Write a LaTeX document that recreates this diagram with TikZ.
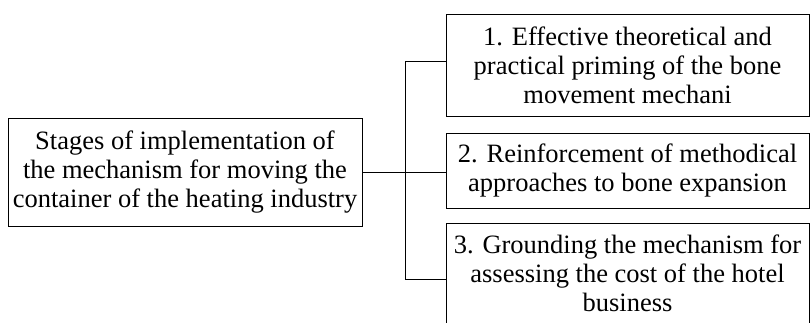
\documentclass[tikz,border=0pt]{standalone}
\usepackage{fontspec}
\setmainfont{Liberation Serif}
\begin{document}
\begin{tikzpicture}[x=1pt,y=1pt,
  box/.style={draw, line width=1pt, align=center, inner sep=0pt, font=\fontsize{26.5}{29}\selectfont},
  link/.style={line width=1pt}]
\clip (0,0) rectangle (810,322);
\node[box, minimum width=354, minimum height=108] (root) at (185,150)
  {Stages of implementation of\\the mechanism for moving the\\container of the heating industry};
\node[box, minimum width=363, minimum height=101] (b1) at (627.5,256.5)
  {1. Effective theoretical and\\practical priming of the bone\\movement mechani};
\node[box, minimum width=363, minimum height=75] (b2) at (627.5,151.5)
  {2. Reinforcement of methodical\\approaches to bone expansion};
\node[box, minimum width=363, minimum height=100] (b3) at (627.5,49)
  {3. Grounding the mechanism for\\assessing the cost of the hotel\\business};
\coordinate (j) at (405,150);
\coordinate (t1) at (405,260);
\coordinate (t3) at (405,43);
\draw[link] (root.east) -- (j);
\draw[link] (t1) -- (t3);
\draw[link] (t1) -- (t1 -| b1.west);
\draw[link] (j) -- (j -| b2.west);
\draw[link] (t3) -- (t3 -| b3.west);
\end{tikzpicture}
\end{document}
